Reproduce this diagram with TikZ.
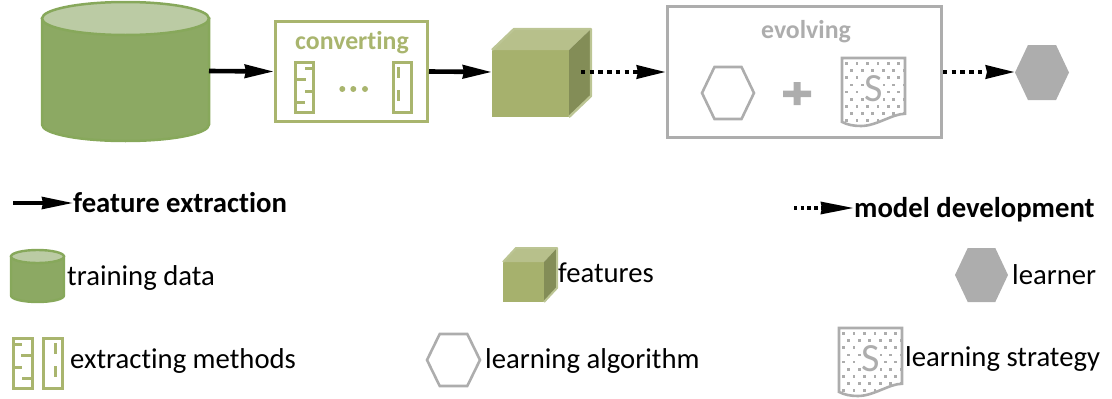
\documentclass[tikz,border=0pt]{standalone}
\usepackage{fontspec}
\setmainfont[Ligatures=NoCommon]{Carlito}
\usetikzlibrary{arrows.meta}
\definecolor{cylfill}{HTML}{8CA963}
\definecolor{cylline}{HTML}{87A85B}
\definecolor{cyltop}{HTML}{BBCBA4}
\definecolor{olive}{HTML}{A9B56E}
\definecolor{cubefront}{HTML}{A6B16D}
\definecolor{cubetop}{HTML}{B7C08B}
\definecolor{cubeside}{HTML}{838D57}
\definecolor{cubeline}{HTML}{BCC594}
\definecolor{greyc}{HTML}{ADADAD}
\tikzset{
  x=1pt,y=-1pt,
  flowarrow/.style={line width=4.6pt,-{Stealth[length=29pt,width=13pt,inset=1pt]}},
  dotarrow/.style={line width=4.4pt,dash pattern=on 4.4pt off 4.3pt,-{Stealth[length=29pt,width=13pt,inset=1pt]}},
  legarrow/.style={line width=3.4pt,-{Stealth[length=31pt,width=12pt,inset=1pt]}},
  legdotarrow/.style={line width=3.6pt,dash pattern=on 3.4pt off 3.3pt,-{Stealth[length=33pt,width=12pt,inset=1pt]}},
  methodline/.style={draw=olive,line width=3pt},
  boldlabel/.style={font=\fontsize{28.7}{29}\selectfont\bfseries,inner sep=0,anchor=base west},
  label/.style={font=\fontsize{28.7}{29}\selectfont,inner sep=0,anchor=base west},
}
% xl, ytop, w, h, ellipse height, line width
\newcommand{\cylicon}[6]{%
  \draw[cylline,fill=cylfill,line width=#6pt]
    (#1,#2+#5/2) -- (#1,#2+#4-#5/2)
    .. controls (#1,#2+#4-#5/2+#5*0.28) and (#1+#3*0.22,#2+#4) .. (#1+#3/2,#2+#4)
    .. controls (#1+#3*0.78,#2+#4) and (#1+#3,#2+#4-#5/2+#5*0.28) .. (#1+#3,#2+#4-#5/2)
    -- (#1+#3,#2+#5/2) -- cycle;
  \draw[cylline,fill=cyltop,line width=#6pt]
    (#1+#3/2,#2+#5/2) ellipse [x radius=#3/2,y radius=#5/2];
}
% front xl, ytop, w, h, depth dx, depth dy, outline width
\newcommand{\cubeicon}[7]{%
  \fill[cubefront] (#1,#2) rectangle (#1+#3,#2+#4);
  \fill[cubetop] (#1,#2) -- (#1+#5,#2-#6) -- (#1+#3+#5,#2-#6) -- (#1+#3,#2) -- cycle;
  \fill[cubeside] (#1+#3,#2) -- (#1+#3+#5,#2-#6) -- (#1+#3+#5,#2+#4-#6) -- (#1+#3,#2+#4) -- cycle;
  \draw[cubeline,line width=#7pt,line join=round] (#1,#2) -- (#1+#5,#2-#6) -- (#1+#3+#5,#2-#6) -- (#1+#3+#5,#2+#4-#6) -- (#1+#3,#2+#4);
}
% xl, ytop, w, h, options
\newcommand{\hexicon}[5]{%
  \path[#5,line join=miter] (#1,#2+#4/2) -- (#1+#3*0.24,#2) -- (#1+#3*0.76,#2)
    -- (#1+#3,#2+#4/2) -- (#1+#3*0.76,#2+#4) -- (#1+#3*0.24,#2+#4) -- cycle;
}
% xl, ytop, w, h, S size
\newcommand{\docicon}[5]{%
  \begin{scope}[shift={(#1,#2)},xscale=#3,yscale=#4]
    \begin{scope}
      \clip (0,0) -- (1,0) -- (1,.82) .. controls (.8,.82) and (.55,1) .. (.3,1) .. controls (.18,1) and (.08,.98) .. (0,.94) -- cycle;
      \foreach \r in {0,...,9}{
        \foreach \c in {0,...,6}{
          \pgfmathsetmacro{\xo}{.05+\c*.166+mod(\r,2)*.083}
          \pgfmathsetmacro{\yo}{.06+\r*.105}
          \fill[greyc] (\xo,\yo) rectangle (\xo+.045,\yo+.042);
        }
      }
    \end{scope}
    \draw[greyc,line width=2.6pt] (0,0) -- (1,0) -- (1,.82) .. controls (.8,.82) and (.55,1) .. (.3,1) .. controls (.18,1) and (.08,.98) .. (0,.94) -- cycle;
    \node[inner sep=0pt,fill=white,text=greyc,font=\fontsize{#5}{#5}\selectfont] at (.5,.45) {S};
  \end{scope}
}
\newcommand{\methodA}[1]{%
  \begin{scope}[#1]
    \draw[methodline] (0,0) rectangle (1,1);
    \draw[methodline] (1,.13) -- (.55,.13) (0,.35) -- (.6,.35) (1,.58) -- (.55,.58) (0,.80) -- (.55,.80);
  \end{scope}
}
\newcommand{\methodB}[1]{%
  \begin{scope}[#1]
    \draw[methodline] (0,0) rectangle (1,1);
    \draw[methodline] (.33,.10) -- (.33,.32) (.33,.56) -- (.33,.78);
  \end{scope}
}
\begin{document}
\begin{tikzpicture}
\useasboundingbox (0,0) rectangle (1112,399);

% top row
\cylicon{42}{2}{167}{139}{33}{2.5}
\coordinate (cylE) at (209,71);

\node[draw=olive,line width=3pt,minimum width=152pt,minimum height=100pt,inner sep=0] (conv) at (351.5,71.5) {};
\node[inner sep=0,anchor=base,text=olive,font=\fontsize{25.8}{26}\selectfont\bfseries] (convT) at (352,49) {converting};
\methodA{shift={(295,62)},xscale=18,yscale=50}
\methodB{shift={(393,62)},xscale=18,yscale=50}
\foreach \d in {342.3,353.3,365}{\fill[olive] (\d,89) circle (3);}

\cubeicon{492}{50}{77}{67}{22}{21}{2.4}
\coordinate (cubeW) at (492,72);
\coordinate (cubeE) at (581,72);

\node[draw=greyc,line width=3pt,minimum width=274pt,minimum height=131pt,inner sep=0] (evolve) at (804.5,72) {};
\node[inner sep=0,anchor=base,text=greyc,font=\fontsize{25.8}{26}\selectfont\bfseries] (evolveT) at (806,38) {evolving};
\hexicon{702}{67}{52}{52}{draw=greyc,line width=2.6pt}
\fill[greyc] (783,90.5) rectangle (811,97) (793.5,82) rectangle (800.5,105);
\docicon{842}{58}{63}{68}{40}

\hexicon{1015}{45}{54}{55}{fill=greyc}
\coordinate (learnerW) at (1015,72);

\draw[flowarrow] (cylE) -- (conv.west);
\draw[flowarrow] (conv.east) -- (cubeW);
\draw[dotarrow] (cubeE) -- (evolve.west);
\draw[dotarrow] (evolve.east) -- (learnerW);

% legend row 1
\coordinate (legA) at (13,203);
\node[boldlabel] (legAT) at (73,212) {feature extraction};
\coordinate (legAH) at (73,203);
\draw[legarrow] (legA) -- (legAH);
\coordinate (legB) at (794,208);
\node[boldlabel] (legBT) at (854,217) {model development};
\coordinate (legBH) at (854,208);
\draw[legdotarrow] (legB) -- (legBH);

% legend row 2
\cylicon{11}{250}{53}{52}{13}{2.4}
\node[label] (l1) at (67,285) {training data};
\cubeicon{503}{262}{41}{40}{13}{14}{2}
\node[label] (l2) at (558,282) {features};
\hexicon{955}{248}{53}{54}{fill=greyc}
\node[label] (l3) at (1012,284) {learner};

% legend row 3
\methodA{shift={(32,338)},xscale=-19,yscale=50}
\methodB{shift={(62,338)},xscale=-19,yscale=50}
\node[label] (l4) at (70,368) {extracting methods};
\hexicon{427}{334}{53}{52}{draw=greyc,line width=2.6pt}
\node[label] (l5) at (485,368) {learning algorithm};
\docicon{839}{328}{63}{68}{40}
\node[label] (l6) at (905,366) {learning strategy};
\end{tikzpicture}
\end{document}
